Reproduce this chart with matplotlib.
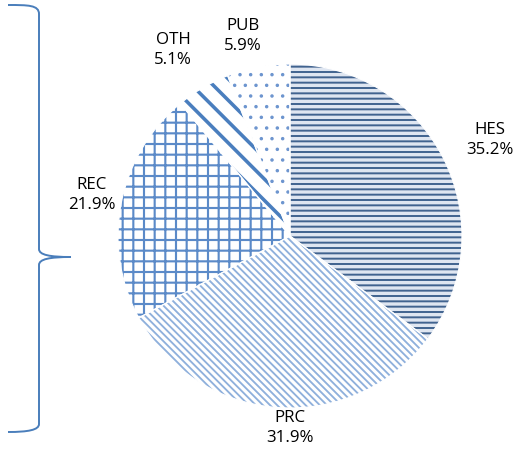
import matplotlib
matplotlib.use("Agg")
import matplotlib.pyplot as plt
from matplotlib.path import Path
from matplotlib.patches import PathPatch

# datos del grafico (orden horario desde las 12)
sectores = ["HES", "PRC", "REC", "OTH", "PUB"]
porcentajes = [35.2, 31.9, 21.9, 5.1, 5.9]

# estilo de cada sector
fondos = ["#dfe6f1", "white", "white", "white", "white"]
tramas = ["--", "\\\\\\", "+", "\\", "."]
color_trama = ["#41638f", "#8fb0dc", "#5b8ac8", "#4a7ebe", "#6d95cf"]
grosor_trama = [2.2, 2.1, 2.4, 4.0, 1.5]

# posiciones de las etiquetas en pixeles
pos_etiq = [(490, 140), (290, 428), (92, 195), (173, 50), (243, 36)]

W, H, DPI = 516, 450, 64
plt.rcParams['font.family'] = ['Open Sans', 'DejaVu Sans']

fig = plt.figure(figsize=(W / DPI, H / DPI), dpi=DPI)
cx, cy, r = 290, 236, 172
ax = fig.add_axes([(cx - r) / W, (H - cy - r) / H, 2 * r / W, 2 * r / H])

cunas, _ = ax.pie(porcentajes, startangle=90, counterclock=False, colors=fondos,
                  radius=1, wedgeprops=dict(linewidth=0))
for c, t, col, g in zip(cunas, tramas, color_trama, grosor_trama):
    c.set_hatch(t)
    c.set_edgecolor(col)
    c.set_linewidth(0)
    if hasattr(c, "set_hatch_linewidth"):
        c.set_hatch_linewidth(g)

# bordes blancos entre sectores
ax.pie(porcentajes, startangle=90, counterclock=False, radius=1,
       wedgeprops=dict(fill=False, edgecolor="white", linewidth=1.3))
ax.set_xlim(-1, 1)
ax.set_ylim(-1, 1)
ax.axis("off")

for nom, val, (px, py) in zip(sectores, porcentajes, pos_etiq):
    fig.text(px / W, 1 - py / H, f"{nom}\n{val:.1f}%", ha="center", va="center",
             fontsize=19, color="black", linespacing=1.4)

# llave de la izquierda
def p(x, y):
    return (x / W, 1 - y / H)

verts = [p(8, 5), p(28, 5), p(39, 5), p(39, 14),
         p(39, 249),
         p(39, 255), p(50, 257), p(71, 257),
         p(50, 257), p(39, 259), p(39, 265),
         p(39, 424),
         p(39, 430), p(28, 432), p(8, 432)]
codes = [Path.MOVETO, Path.CURVE4, Path.CURVE4, Path.CURVE4,
         Path.LINETO,
         Path.CURVE4, Path.CURVE4, Path.CURVE4,
         Path.CURVE4, Path.CURVE4, Path.CURVE4,
         Path.LINETO,
         Path.CURVE4, Path.CURVE4, Path.CURVE4]
fig.patches.append(PathPatch(Path(verts, codes), fill=False, edgecolor="#4a7ebb",
                             linewidth=2.2, transform=fig.transFigure))

fig.savefig("out.png", dpi=DPI)
